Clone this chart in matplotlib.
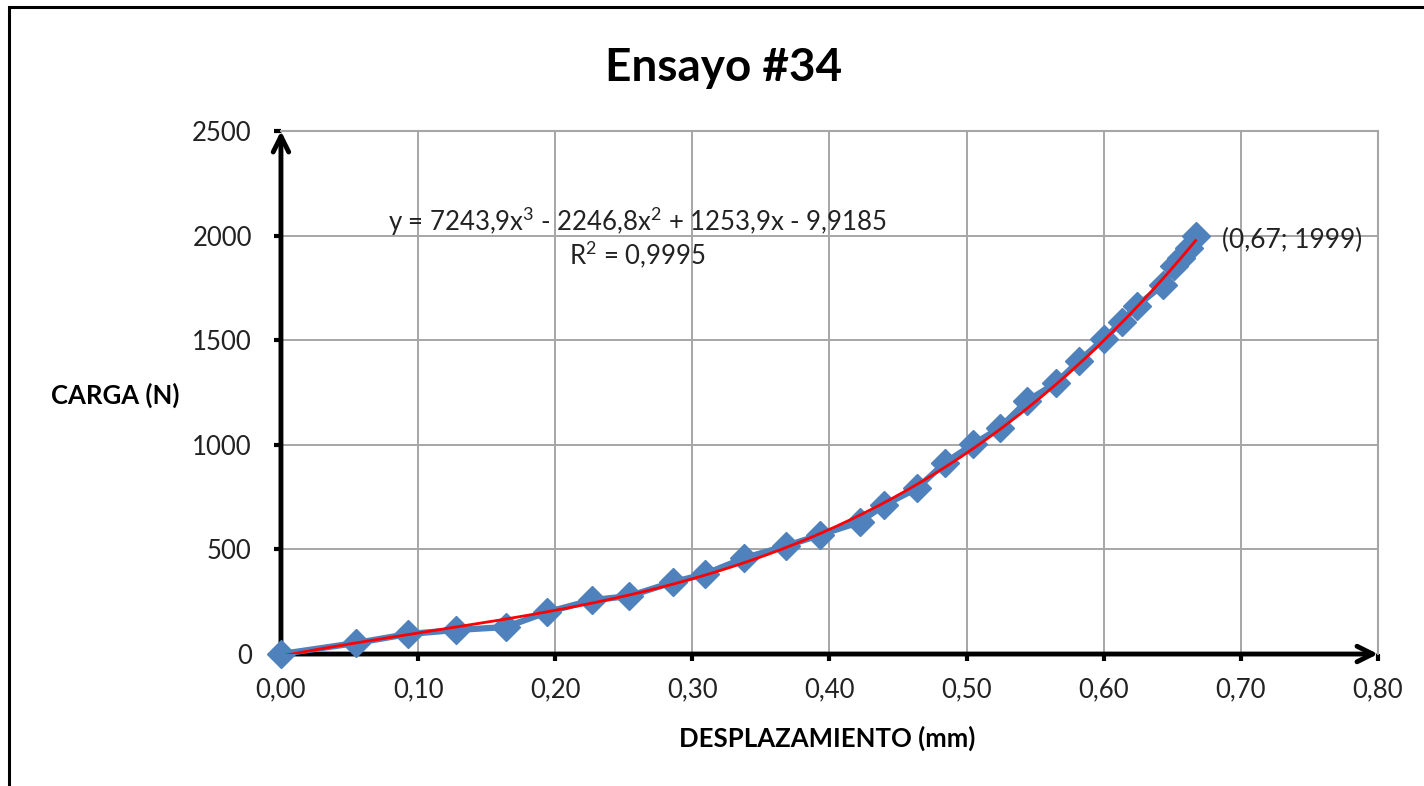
import numpy as np
import matplotlib
matplotlib.use("Agg")
import matplotlib.pyplot as plt
from matplotlib.patches import Rectangle
from matplotlib.ticker import FuncFormatter

# --- data ---
desplazamiento = [0.000, 0.055, 0.093, 0.128, 0.164, 0.194, 0.227, 0.254, 0.286,
                  0.309, 0.338, 0.368, 0.393, 0.422, 0.440, 0.464, 0.484, 0.505,
                  0.524, 0.544, 0.565, 0.582, 0.600, 0.613, 0.624, 0.643, 0.651,
                  0.656, 0.662, 0.667]
carga = [0, 53, 96, 115, 129, 200, 258, 277, 344,
         382, 459, 516, 569, 631, 712, 793, 913, 1004,
         1080, 1209, 1295, 1401, 1506, 1587, 1663, 1764, 1855,
         1893, 1941, 1999]

# polynomial trendline shown on the chart (order 3)
trend_coef = [7243.9, -2246.8, 1253.9, -9.9185]
eq_text = "y = 7243,9x$^{3}$ - 2246,8x$^{2}$ + 1253,9x - 9,9185"
r2_text = "R$^{2}$ = 0,9995"
last_label = "(0,67; 1999)"

plt.rcParams["font.family"] = ["Lato", "DejaVu Sans"]
plt.rcParams["mathtext.fontset"] = "custom"
plt.rcParams["mathtext.rm"] = "Lato"
plt.rcParams["mathtext.it"] = "Lato"
plt.rcParams["mathtext.default"] = "rm"

fig = plt.figure(figsize=(14.24, 7.86), dpi=100)
ax = fig.add_axes([0.1973, 0.1679, 0.7704, 0.6654])

blue = "#4F81BD"
ax.plot(desplazamiento, carga, color=blue, lw=4.5, marker="D", ms=14,
        mec=blue, mfc=blue, zorder=6, clip_on=False)

xt = np.linspace(desplazamiento[0], desplazamiento[-1], 200)
ax.plot(xt, np.polyval(trend_coef, xt), color="red", lw=2, zorder=7)

# --- axes ---
ax.set_xlim(0, 0.8)
ax.set_ylim(0, 2500)
ax.set_xticks(np.arange(0, 0.81, 0.1))
ax.set_yticks(np.arange(0, 2501, 500))
ax.xaxis.set_major_formatter(FuncFormatter(lambda v, p: f"{v:.2f}".replace(".", ",")))
ax.tick_params(axis="both", labelsize=18.5, direction="out", length=5, width=3,
               color="black", labelcolor="#222222")
ax.tick_params(axis="y", pad=16)
ax.tick_params(axis="x", pad=12)
ax.grid(True, color="#a6a6a6", lw=1.4)
ax.set_axisbelow(True)

for s in ["top", "right"]:
    ax.spines[s].set_color("#a6a6a6")
    ax.spines[s].set_linewidth(1.5)
for s in ["left", "bottom"]:
    ax.spines[s].set_visible(False)

# axis arrows
arrow = dict(arrowstyle="->", lw=3.5, color="black", mutation_scale=28,
             shrinkA=0, shrinkB=0)
ax.annotate("", xy=(0, 1), xytext=(0, 0), xycoords="axes fraction",
            arrowprops=arrow, annotation_clip=False, zorder=5)
ax.annotate("", xy=(1, 0), xytext=(0, 0), xycoords="axes fraction",
            arrowprops=arrow, annotation_clip=False, zorder=5)

# --- texts ---
ax.text(0.2597, 2065, eq_text, ha="center", va="center", fontsize=18.5, color="#222222")
ax.text(0.2597, 1907, r2_text, ha="center", va="center", fontsize=18.5, color="#222222")
ax.annotate(last_label, xy=(desplazamiento[-1], carga[-1]), xytext=(19, -3),
            textcoords="offset points", ha="left", va="center", fontsize=19,
            color="#222222")

fig.text(0.508, 0.914, "Ensayo #34", ha="center", va="center", fontsize=33,
         fontweight="bold")
fig.text(0.081, 0.4975, "CARGA (N)", ha="center", va="center", fontsize=18.5,
         fontweight="bold")
fig.text(0.581, 0.061, "DESPLAZAMIENTO (mm)", ha="center", va="center",
         fontsize=18.5, fontweight="bold")

# outer chart border
fig.patches.append(Rectangle((9 / 1424, -0.05), 1.1, 1.05 - 7 / 786,
                             transform=fig.transFigure, fill=False,
                             ec="black", lw=2.2, clip_on=False))

fig.savefig("out.png", dpi=100)
